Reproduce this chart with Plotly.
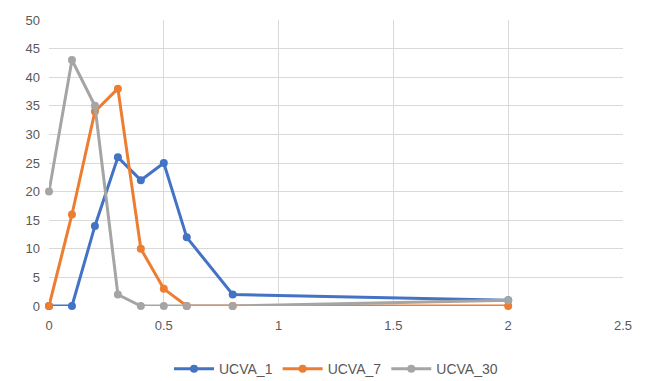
import plotly.graph_objects as go

x_vals = [0, 0.1, 0.2, 0.3, 0.4, 0.5, 0.6, 0.8, 2]
ucva_1 = [0, 0, 14, 26, 22, 25, 12, 2, 1]
ucva_7 = [0, 16, 34, 38, 10, 3, 0, 0, 0]
ucva_30 = [20, 43, 35, 2, 0, 0, 0, 0, 1]
series_names = ["UCVA_1", "UCVA_7", "UCVA_30"]
colors = ["#4472C4", "#ED7D31", "#A5A5A5"]

fig = go.Figure()
for name, ys, c in zip(series_names, [ucva_1, ucva_7, ucva_30], colors):
    fig.add_trace(go.Scatter(
        x=x_vals, y=ys, name=name, mode="lines+markers",
        line=dict(color=c, width=3),
        marker=dict(color=c, size=8),
        cliponaxis=False,
    ))

fig.update_layout(
    width=646, height=381,
    margin=dict(l=49, r=23, t=20, b=75, autoexpand=False),
    paper_bgcolor="white", plot_bgcolor="white",
    font=dict(family="Liberation Sans, Arial", size=13, color="#595959"),
    showlegend=True,
    legend=dict(orientation="h", x=0.5, xanchor="center", y=-0.165, yanchor="top",
                font=dict(size=14, color="#595959"), itemwidth=40),
    xaxis=dict(range=[0, 2.5], dtick=0.5, tick0=0, showgrid=True, gridcolor="#D9D9D9",
               zeroline=False, showline=False, ticks="", automargin=False,
               ticklabelstandoff=10),
    yaxis=dict(range=[0, 50], dtick=5, tick0=0, showgrid=True, gridcolor="#D9D9D9",
               zeroline=False, showline=False, ticks="", automargin=False,
               ticklabelstandoff=8),
)

fig.write_html("out.html", config={"displayModeBar": False},
               post_script="document.body.style.margin='0';")
